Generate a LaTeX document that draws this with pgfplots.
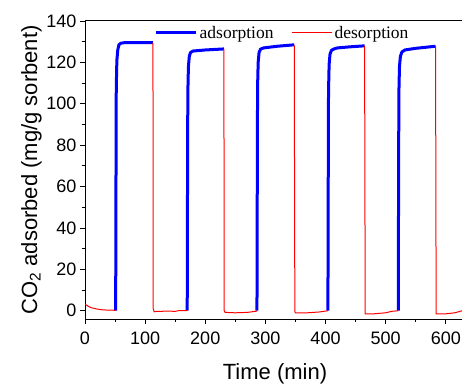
\documentclass[border=0pt]{standalone}
\usepackage{fontspec}
\setmainfont{Liberation Sans}
\newfontfamily\timesf{Liberation Serif}
\usepackage{pgfplots}
\pgfplotsset{compat=1.18}
\begin{document}
\begin{tikzpicture}
\begin{axis}[
  at={(0,0)}, anchor=south west,
  scale only axis, width=380pt, height=298pt,
  xmin=0, xmax=632, ymin=-4, ymax=140,
  xtick={0,100,...,600}, minor xtick={50,150,...,650},
  ytick={0,20,...,140}, minor ytick={10,30,...,130},
  xtick pos=bottom, ytick pos=left,
  tick align=outside,
  major tick length=5pt, minor tick length=3pt,
  axis line style={line width=1pt},
  every tick/.style={black, line width=0.8pt},
  /pgf/number format/assume math mode=true,
  ticklabel style={font=\fontsize{18}{18}\selectfont},
  xticklabel style={yshift=-4pt},
  xlabel={Time (min)},
  ylabel={CO\textsubscript{2} adsorbed (mg/g sorbent)},
  label style={font=\fontsize{22}{22}\selectfont},
  xlabel style={yshift=-12pt},
  ylabel style={yshift=-2pt},
  legend columns=2,
  legend style={draw=none, fill=none, at={(0.52,0.96)}, anchor=center,
    font=\timesf\fontsize{17.5}{17.5}\selectfont,
    /tikz/every even column/.append style={column sep=16pt}},
  legend image code/.code={\draw[#1] (0pt,0pt) -- (40pt,0pt);},
  unbounded coords=jump,
]
\addplot[blue, line width=3pt, line join=round] table {
x y
51 0
51.5 60
52 108
53 121
54.5 126
56.5 128.6
60 129.3
65 129.5
90 129.6
113 129.5
nan nan
170 0
170.5 60
171 105
172 118
173.5 123
175.5 124.8
180 125.5
200 126
231 126.5
nan nan
286 0
286.5 60
287 108
288 120
289.5 124.8
292 126.4
297 127
320 127.8
348 128.5
nan nan
404 0
404.5 60
405 106
406 119
407.5 124
410 125.9
415 126.6
420 127
440 127.5
465 128
nan nan
521 0
521.5 60
522 105
523 118
524.5 122.8
527 125
532 126
550 126.8
583 127.8
};
\addlegendentry{adsorption}
\addplot[red, line width=1pt] table {
x y
0 3.2
5 2.2
10 1.5
20 0.8
30 0.4
40 0.3
51 0.2
nan nan
113 129.5
113.5 1
115 -0.5
120 -0.3
140 -0.2
150 -0.3
155 0
170 0
nan nan
231 126.5
231.5 0
233 -0.8
250 -1
270 -0.8
286 -0.2
nan nan
348 128.5
349 -0.5
350 -1
370 -1
390 -0.6
404 0
nan nan
465 128
466 -1.5
480 -1.5
500 -1
510 -0.3
521 0
nan nan
583 127.8
584 -1.5
600 -1.5
615 -1
625 -0.2
632 0.5
};
\addlegendentry{desorption}
\end{axis}
\pgfresetboundingbox
\path (-85pt,-64pt) rectangle (377pt,319pt);
\end{tikzpicture}
\end{document}
